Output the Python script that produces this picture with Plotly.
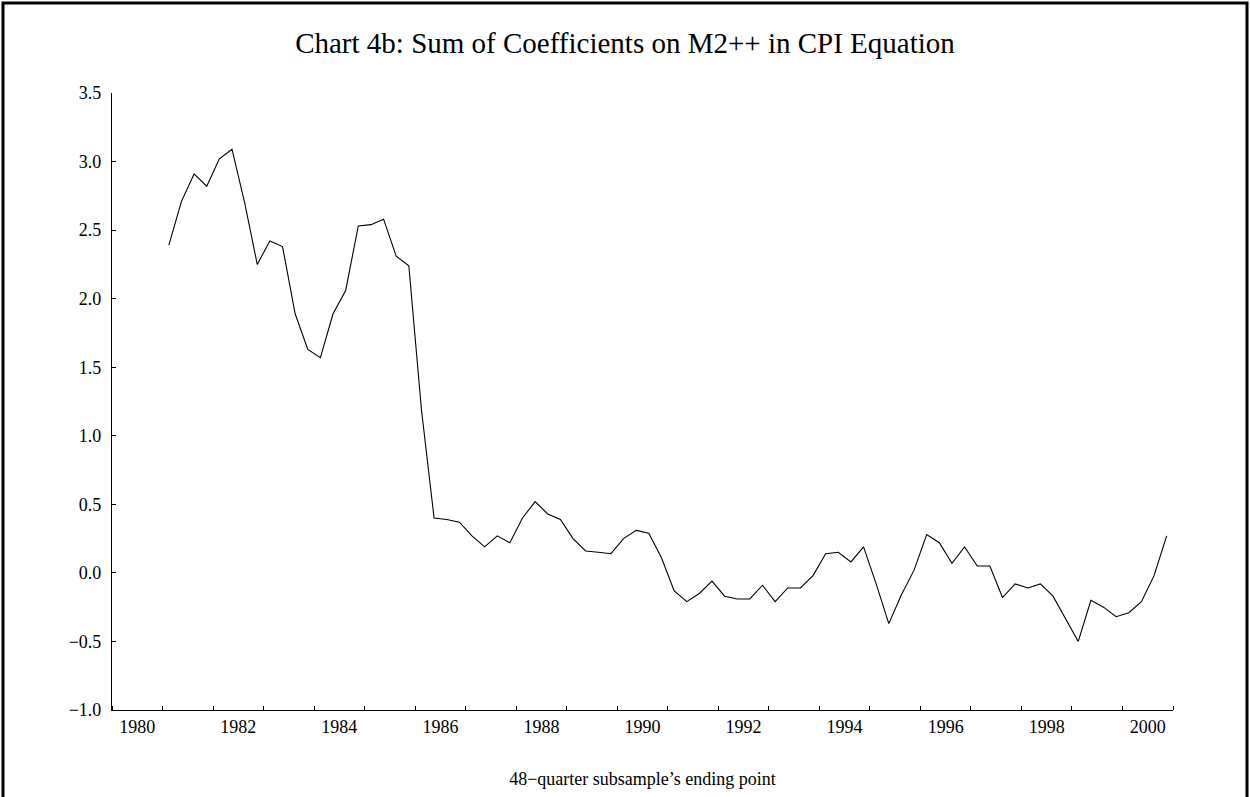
"""Chart 4b: rolling sum of M2++ coefficients in the CPI equation."""

import plotly.graph_objects as go

# Subsample ending points: 1981Q1 .. 2000Q4
years = list(range(1981, 2001))
quarters = [1, 2, 3, 4]

# Sum of coefficients, one value per ending quarter
coef_sum = [
    2.39, 2.71, 2.91, 2.82,   # 1981
    3.02, 3.09, 2.70, 2.25,   # 1982
    2.42, 2.38, 1.89, 1.63,   # 1983
    1.57, 1.89, 2.06, 2.53,   # 1984
    2.54, 2.58, 2.31, 2.24,   # 1985
    1.19, 0.40, 0.39, 0.37,   # 1986
    0.27, 0.19, 0.27, 0.22,   # 1987
    0.40, 0.52, 0.43, 0.39,   # 1988
    0.25, 0.16, 0.15, 0.14,   # 1989
    0.25, 0.31, 0.29, 0.11,   # 1990
    -0.13, -0.21, -0.15, -0.06,  # 1991
    -0.17, -0.19, -0.19, -0.09,  # 1992
    -0.21, -0.11, -0.11, -0.02,  # 1993
    0.14, 0.15, 0.08, 0.19,   # 1994
    -0.08, -0.37, -0.16, 0.02,  # 1995
    0.28, 0.22, 0.07, 0.19,   # 1996
    0.05, 0.05, -0.18, -0.08,  # 1997
    -0.11, -0.08, -0.17, -0.33,  # 1998
    -0.50, -0.20, -0.25, -0.32,  # 1999
    -0.29, -0.21, -0.02, 0.27,  # 2000
]

# Year labels, centred inside each labelled year
label_years = list(range(1980, 2001, 2))
y_ticks = [-1.0, -0.5, 0.0, 0.5, 1.0, 1.5, 2.0, 2.5, 3.0, 3.5]

# Each quarter is plotted at the middle of its quarter
x_pos = [y + (q - 0.5) / 4 for y in years for q in quarters]

SERIF = "Liberation Serif, Times New Roman, serif"

fig = go.Figure()

fig.add_trace(
    go.Scatter(
        x=x_pos,
        y=coef_sum,
        mode="lines",
        line=dict(color="black", width=1.1),
        hovertemplate="%{x:.2f}: %{y:.2f}<extra></extra>",
    )
)

fig.update_layout(
    width=1250,
    height=797,
    margin=dict(l=112, r=77, t=93, b=87),
    paper_bgcolor="white",
    plot_bgcolor="white",
    showlegend=False,
    font=dict(family=SERIF, color="black", size=18),
    title=dict(
        text="Chart 4b: Sum of Coefficients on M2++ in CPI Equation",
        x=0.5,
        xanchor="center",
        y=0.946,
        yanchor="middle",
        font=dict(family=SERIF, size=29, color="black"),
    ),
    xaxis=dict(
        range=[1980, 2001],
        tickmode="array",
        tickvals=[y + 0.5 for y in label_years],
        ticktext=[str(y) for y in label_years],
        ticks="",
        showgrid=False,
        zeroline=False,
        showline=True,
        linecolor="black",
        linewidth=1.2,
        tickfont=dict(family=SERIF, size=18),
        ticklabelstandoff=0,
        minor=dict(tick0=1980, dtick=1, ticks="inside", ticklen=4, tickcolor="black", tickwidth=1),
        title=dict(
            text="48\u2212quarter subsample\u2019s ending point",
            font=dict(family=SERIF, size=18),
            standoff=36,
        ),
    ),
    yaxis=dict(
        range=[-1.0, 3.5],
        tickmode="array",
        tickvals=y_ticks,
        tickformat=".1f",
        ticks="inside",
        ticklen=4,
        tickcolor="black",
        showgrid=False,
        zeroline=False,
        showline=True,
        linecolor="black",
        linewidth=1.2,
        tickfont=dict(family=SERIF, size=18),
        ticklabelstandoff=6,
    ),
)

# Page frame around the chart
fig.add_shape(
    type="rect",
    xref="paper",
    yref="paper",
    x0=(3 - 112) / 1061,
    x1=(1247 - 112) / 1061,
    y0=(710 - 800) / 617,
    y1=(710 - 3) / 617,
    line=dict(color="black", width=3),
    fillcolor="rgba(0,0,0,0)",
    layer="below",
)

# Drop the page's default body margin so the figure sits at the window's corner
fig.write_html(
    "out.html",
    config={"displayModeBar": False},
    post_script="document.body.style.margin = '0';",
)
